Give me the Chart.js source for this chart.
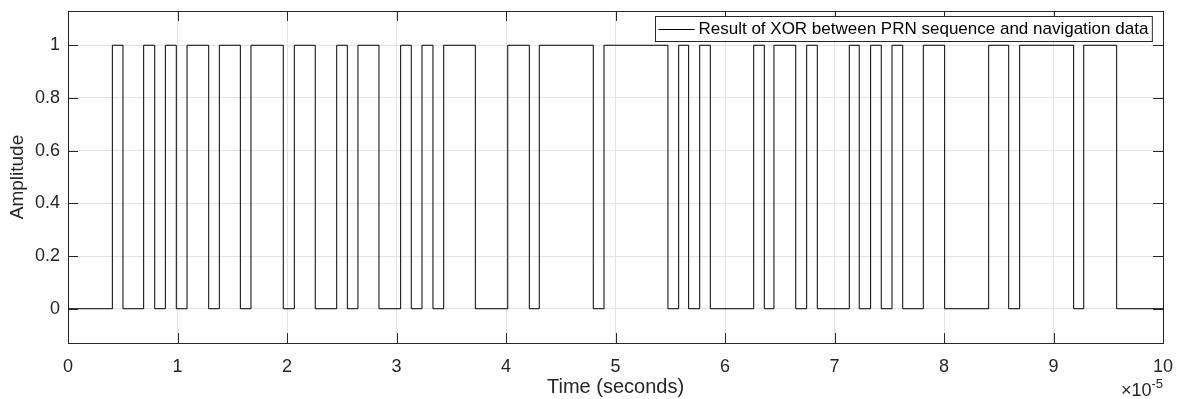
<!DOCTYPE html>
<html>
<head>
<meta charset="utf-8">
<script src="https://cdn.jsdelivr.net/npm/chart.js@4"></script>
<style>
  html, body { margin: 0; padding: 0; background: #fff; }
  #wrap { width: 1177px; height: 399px; position: relative; }
</style>
</head>
<body>
<div id="wrap"><canvas id="xorChart"></canvas></div>
<script>
// Edge times of the XOR signal, in units of 1e-5 s
const edgeTimes = [
    0, 0.405, 0.502, 0.691, 0.792, 0.889, 0.989, 1.087, 1.285, 1.382,
    1.574, 1.671, 1.966, 2.067, 2.258, 2.454, 2.551, 2.648, 2.840, 3.038,
    3.135, 3.233, 3.333, 3.431, 3.720, 4.016, 4.213, 4.304, 4.797, 4.895,
    5.479, 5.577, 5.668, 5.769, 5.866, 6.262, 6.359, 6.447, 6.646, 6.746,
    6.843, 7.135, 7.226, 7.330, 7.427, 7.525, 7.623, 7.811, 8.006, 8.408,
    8.591, 8.691, 9.184, 9.276, 9.577, 10
];
// Level held from each edge time until the next one
const levels = [
    0, 1, 0, 1, 0, 1, 0, 1, 0, 1,
    0, 1, 0, 1, 0, 1, 0, 1, 0, 1,
    0, 1, 0, 1, 0, 1, 0, 1, 0, 1,
    0, 1, 0, 1, 0, 1, 0, 1, 0, 1,
    0, 1, 0, 1, 0, 1, 0, 1, 0, 1,
    0, 1, 0, 1, 0, 0
];
const xTicks = [0, 1, 2, 3, 4, 5, 6, 7, 8, 9, 10];
const yTicks = [0, 0.2, 0.4, 0.6, 0.8, 1];
const seriesLabel = 'Result of XOR between PRN sequence and navigation data';

const FONT = '"Liberation Sans", Arial, Helvetica, sans-serif';
const AXIS_COLOR = '#262626';

const points = edgeTimes.map((t, i) => ({ x: t, y: levels[i] }));

// Box, inward ticks, legend and the x10^-5 exponent, MATLAB style
const matlabAxes = {
    id: 'matlabAxes',
    afterDraw(chart) {
        const ctx = chart.ctx;
        const area = chart.chartArea;
        const xs = chart.scales.x;
        const ys = chart.scales.y;
        const tickLen = 10;

        ctx.save();
        ctx.strokeStyle = AXIS_COLOR;
        ctx.lineWidth = 1;
        ctx.beginPath();
        xTicks.forEach(v => {
            const px = Math.round(xs.getPixelForValue(v)) + 0.5;
            ctx.moveTo(px, area.bottom);
            ctx.lineTo(px, area.bottom - tickLen);
            ctx.moveTo(px, area.top);
            ctx.lineTo(px, area.top + tickLen);
        });
        yTicks.forEach(v => {
            const py = Math.round(ys.getPixelForValue(v)) + 0.5;
            ctx.moveTo(area.left, py);
            ctx.lineTo(area.left + tickLen, py);
            ctx.moveTo(area.right, py);
            ctx.lineTo(area.right - tickLen, py);
        });
        ctx.stroke();
        ctx.strokeRect(Math.round(area.left) + 0.5, Math.round(area.top) + 0.5,
            Math.round(area.right - area.left), Math.round(area.bottom - area.top));

        // legend box
        ctx.font = '17px ' + FONT;
        const textW = ctx.measureText(seriesLabel).width;
        const boxRight = area.right - 11;
        const boxW = 3 + 36 + 4 + textW + 4;
        const boxLeft = Math.round(boxRight - boxW) + 0.5;
        const boxTop = area.top + 5.5;
        const boxH = 25;
        ctx.fillStyle = '#fff';
        ctx.fillRect(boxLeft, boxTop, boxW, boxH);
        ctx.strokeStyle = AXIS_COLOR;
        ctx.strokeRect(boxLeft, boxTop, boxW, boxH);
        const midY = Math.round(boxTop + boxH / 2) + 0.5;
        ctx.strokeStyle = '#000';
        ctx.beginPath();
        ctx.moveTo(boxLeft + 3, midY);
        ctx.lineTo(boxLeft + 39, midY);
        ctx.stroke();
        ctx.fillStyle = '#000';
        ctx.textBaseline = 'middle';
        ctx.textAlign = 'left';
        ctx.fillText(seriesLabel, boxLeft + 43, midY);

        // exponent
        ctx.fillStyle = AXIS_COLOR;
        ctx.textBaseline = 'alphabetic';
        ctx.textAlign = 'right';
        ctx.font = '13px ' + FONT;
        const expText = '-5';
        const expW = ctx.measureText(expText).width;
        ctx.fillText(expText, area.right, 388);
        ctx.font = '18px ' + FONT;
        ctx.fillText('\u00d710', area.right - expW, 396);
        ctx.restore();
    }
};

const ctx = document.getElementById('xorChart').getContext('2d');
new Chart(ctx, {
    type: 'line',
    data: {
        datasets: [{
            label: seriesLabel,
            data: points,
            borderColor: '#000',
            borderWidth: 1,
            pointRadius: 0,
            stepped: true,
            tension: 0,
            fill: false
        }]
    },
    options: {
        responsive: true,
        maintainAspectRatio: false,
        animation: false,
        events: [],
        layout: { padding: { top: 11, right: 14, left: 0, bottom: 0 } },
        plugins: {
            legend: { display: false },
            tooltip: { enabled: false }
        },
        scales: {
            x: {
                type: 'linear',
                min: 0,
                max: 10,
                afterBuildTicks: scale => { scale.ticks = xTicks.map(v => ({ value: v })); },
                afterFit: scale => {
                    scale.height = 56;
                    scale.paddingLeft = 0;
                    scale.paddingRight = 0;
                },
                grid: { color: '#e3e3e3', drawTicks: false },
                border: { display: false },
                ticks: {
                    color: AXIS_COLOR,
                    padding: 13,
                    maxRotation: 0,
                    font: { family: FONT, size: 18 },
                    callback: v => String(v)
                },
                title: {
                    display: true,
                    text: 'Time (seconds)',
                    color: AXIS_COLOR,
                    padding: { top: 1, bottom: 0 },
                    font: { family: FONT, size: 20 }
                }
            },
            y: {
                type: 'linear',
                min: -0.13,
                max: 1.13,
                afterBuildTicks: scale => { scale.ticks = yTicks.map(v => ({ value: v })); },
                afterFit: scale => {
                    scale.width = 68;
                    scale.paddingTop = 0;
                    scale.paddingBottom = 0;
                },
                grid: { color: '#e3e3e3', drawTicks: false },
                border: { display: false },
                ticks: {
                    color: AXIS_COLOR,
                    padding: 8,
                    font: { family: FONT, size: 18 },
                    callback: v => String(+Number(v).toFixed(1))
                },
                title: {
                    display: true,
                    text: 'Amplitude',
                    color: AXIS_COLOR,
                    padding: { top: 6, bottom: 0 },
                    font: { family: FONT, size: 19 }
                }
            }
        }
    },
    plugins: [matlabAxes]
});
</script>
</body>
</html>
